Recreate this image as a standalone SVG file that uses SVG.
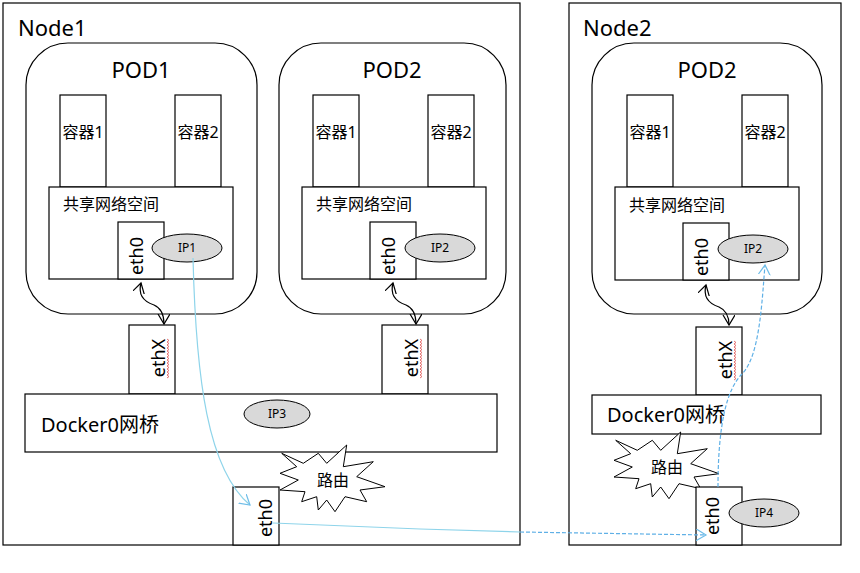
<svg xmlns="http://www.w3.org/2000/svg" width="860" height="573" viewBox="0 0 860 573">
<style>
.box{fill:#fff;stroke:#000;stroke-width:1.2}
.t{font-family:"Noto Sans","Noto Sans CJK SC",sans-serif;fill:#000}
.ip{fill:#d9d9d9;stroke:#000;stroke-width:1}
.ipt{font-family:"Noto Sans",sans-serif;font-size:12px;text-anchor:middle}
.wave{fill:none;stroke:#000;stroke-width:1.2}
.blue{fill:none;stroke:#8ed4ea;stroke-width:1.2}
.blued{fill:none;stroke:#5fb0e6;stroke-width:1.2;stroke-dasharray:4 2}
.sq{fill:none;stroke:#e05050;stroke-width:0.8}
</style>
<defs>
<marker id="ab" markerWidth="14" markerHeight="14" refX="10" refY="6" orient="auto-start-reverse" markerUnits="userSpaceOnUse">
<path d="M0,0 L10,6 L0,12" fill="none" stroke="#000" stroke-width="1.2"/>
</marker>
<marker id="au" markerWidth="14" markerHeight="14" refX="10" refY="6" orient="auto" markerUnits="userSpaceOnUse">
<path d="M0,0 L10,6 L0,12" fill="none" stroke="#6fbde8" stroke-width="1.2"/>
</marker>
<polygon id="burst" points="281.7,453.3 303.3,463.3 318.3,453.3 326.7,463.3 346.7,445 343.3,466.7 373.3,461.7 356.7,476.7 385,486.7 360,490 366.7,501.7 345,496.7 335,511.7 326.7,500 318.3,510 316.7,496.7 301.7,501.7 305,491.7 280,490 298.3,480 280,473.3 296.7,466.7" fill="#fff" stroke="#000" stroke-width="1"/>
</defs>
<rect width="860" height="573" fill="#fff"/>

<g id="node1">
<rect class="box" x="3" y="3" width="517" height="542"/>
<text class="t" x="18" y="36" font-size="22">Node1</text>
</g>
<g id="node2">
<rect class="box" x="569" y="3" width="272" height="542"/>
<text class="t" x="583" y="36" font-size="22">Node2</text>
</g>

<g id="pod1">
<rect class="box" x="26" y="43" width="231" height="271" rx="42"/>
<text class="t" x="141" y="78" font-size="22" text-anchor="middle">POD1</text>
<rect class="box" x="60" y="95" width="46" height="92"/>
<text class="t" x="83" y="138" font-size="16" text-anchor="middle">容器1</text>
<rect class="box" x="175" y="95" width="46" height="92"/>
<text class="t" x="198" y="138" font-size="16" text-anchor="middle">容器2</text>
<rect class="box" x="49" y="187" width="184" height="92"/>
<text class="t" x="63" y="210" font-size="16">共享网络空间</text>
<rect class="box" x="118" y="222" width="46" height="57"/>
<text class="t" font-size="18" text-anchor="middle" transform="translate(143,256) rotate(-90)">eth0</text>
<ellipse class="ip" cx="187" cy="248" rx="35" ry="14"/>
<text class="ipt" x="187" y="252">IP1</text>
</g>

<g id="pod2a">
<rect class="box" x="279" y="43" width="227" height="271" rx="42"/>
<text class="t" x="392" y="78" font-size="22" text-anchor="middle">POD2</text>
<rect class="box" x="313" y="95" width="46" height="92"/>
<text class="t" x="336" y="138" font-size="16" text-anchor="middle">容器1</text>
<rect class="box" x="428" y="95" width="46" height="92"/>
<text class="t" x="451" y="138" font-size="16" text-anchor="middle">容器2</text>
<rect class="box" x="302" y="187" width="184" height="92"/>
<text class="t" x="316" y="210" font-size="16">共享网络空间</text>
<rect class="box" x="370" y="222" width="46" height="57"/>
<text class="t" font-size="18" text-anchor="middle" transform="translate(395,256) rotate(-90)">eth0</text>
<ellipse class="ip" cx="440" cy="248" rx="35" ry="14"/>
<text class="ipt" x="440" y="252">IP2</text>
</g>

<g id="pod2b">
<rect class="box" x="592" y="43" width="230" height="271" rx="42"/>
<text class="t" x="707" y="78" font-size="22" text-anchor="middle">POD2</text>
<rect class="box" x="627" y="95" width="46" height="92"/>
<text class="t" x="650" y="138" font-size="16" text-anchor="middle">容器1</text>
<rect class="box" x="742" y="95" width="46" height="92"/>
<text class="t" x="765" y="138" font-size="16" text-anchor="middle">容器2</text>
<rect class="box" x="615" y="187" width="184" height="93"/>
<text class="t" x="629" y="211" font-size="16">共享网络空间</text>
<rect class="box" x="683" y="223" width="46" height="57"/>
<text class="t" font-size="18" text-anchor="middle" transform="translate(708,257) rotate(-90)">eth0</text>
<ellipse class="ip" cx="753" cy="249" rx="35" ry="14"/>
<text class="ipt" x="753" y="253">IP2</text>
</g>

<g id="ethx1">
<rect class="box" x="129" y="325" width="46" height="69"/>
<text class="t" font-size="18" text-anchor="middle" transform="translate(165,358) rotate(-90)">ethX</text>
<path class="sq" d="M167,339 l2,1.5 l-2,1.5 l2,1.5 l-2,1.5 l2,1.5 l-2,1.5 l2,1.5 l-2,1.5 l2,1.5 l-2,1.5 l2,1.5 l-2,1.5 l2,1.5 l-2,1.5 l2,1.5 l-2,1.5 l2,1.5 l-2,1.5 l2,1.5 l-2,1.5 l2,1.5 l-2,1.5 l2,1.5 l-2,1.5 l2,1.5 l-2,1.5"/>
</g>
<g id="ethx2">
<rect class="box" x="382" y="325" width="46" height="69"/>
<text class="t" font-size="18" text-anchor="middle" transform="translate(418,358) rotate(-90)">ethX</text>
<path class="sq" d="M420,339 l2,1.5 l-2,1.5 l2,1.5 l-2,1.5 l2,1.5 l-2,1.5 l2,1.5 l-2,1.5 l2,1.5 l-2,1.5 l2,1.5 l-2,1.5 l2,1.5 l-2,1.5 l2,1.5 l-2,1.5 l2,1.5 l-2,1.5 l2,1.5 l-2,1.5 l2,1.5 l-2,1.5 l2,1.5 l-2,1.5 l2,1.5 l-2,1.5"/>
</g>
<g id="ethx3">
<rect class="box" x="696" y="327" width="46" height="68"/>
<text class="t" font-size="18" text-anchor="middle" transform="translate(732,360) rotate(-90)">ethX</text>
<path class="sq" d="M734,341 l2,1.5 l-2,1.5 l2,1.5 l-2,1.5 l2,1.5 l-2,1.5 l2,1.5 l-2,1.5 l2,1.5 l-2,1.5 l2,1.5 l-2,1.5 l2,1.5 l-2,1.5 l2,1.5 l-2,1.5 l2,1.5 l-2,1.5 l2,1.5 l-2,1.5 l2,1.5 l-2,1.5 l2,1.5 l-2,1.5 l2,1.5 l-2,1.5"/>
</g>

<g id="docker1">
<rect class="box" x="25" y="394" width="472" height="58"/>
<text class="t" x="41" y="432" font-size="20">Docker0网桥</text>
<ellipse class="ip" cx="277" cy="414" rx="33" ry="14"/>
<text class="ipt" x="277" y="418">IP3</text>
</g>
<g id="docker2">
<rect class="box" x="592" y="395" width="229" height="39"/>
<text class="t" x="607" y="422" font-size="20">Docker0网桥</text>
</g>

<g id="router1">
<use href="#burst"/>
<text class="t" x="333" y="486" font-size="16" text-anchor="middle">路由</text>
</g>
<g id="router2">
<use href="#burst" transform="translate(334,-13)"/>
<text class="t" x="667" y="473" font-size="16" text-anchor="middle">路由</text>
</g>

<g id="eth0n1">
<rect class="box" x="233" y="487" width="46" height="58"/>
<text class="t" font-size="18" text-anchor="middle" transform="translate(272,518) rotate(-90)">eth0</text>
</g>
<g id="eth0n2">
<rect class="box" x="696" y="487" width="46" height="58"/>
<text class="t" font-size="18" text-anchor="middle" transform="translate(719,516) rotate(-90)">eth0</text>
<ellipse class="ip" cx="764" cy="513" rx="35" ry="14"/>
<text class="ipt" x="764" y="517">IP4</text>
</g>

<g id="connectors">
<path class="wave" d="M141,283 C137,298 148,303 154,305 C161,308 164,315 164,324" marker-start="url(#ab)" marker-end="url(#ab)"/>
<path class="wave" d="M393,283 C389,298 400,303 406,305 C413,308 416,315 416,324" marker-start="url(#ab)" marker-end="url(#ab)"/>
<path class="wave" d="M706,285 C702,300 713,305 719,307 C726,310 729,317 729,325" marker-start="url(#ab)" marker-end="url(#ab)"/>
<path class="blue" d="M193,258 C196,380 208,470 250,505" marker-end="url(#au)"/>
<path class="blue" d="M273,523 L420,529 L520,532"/>
<path class="blued" d="M520,532 L706,535" marker-end="url(#au)"/>
<path class="blued" d="M718,487 C718,420 728,388 742,374 C760,356 762,300 765,265" marker-end="url(#au)"/>
</g>
</svg>
